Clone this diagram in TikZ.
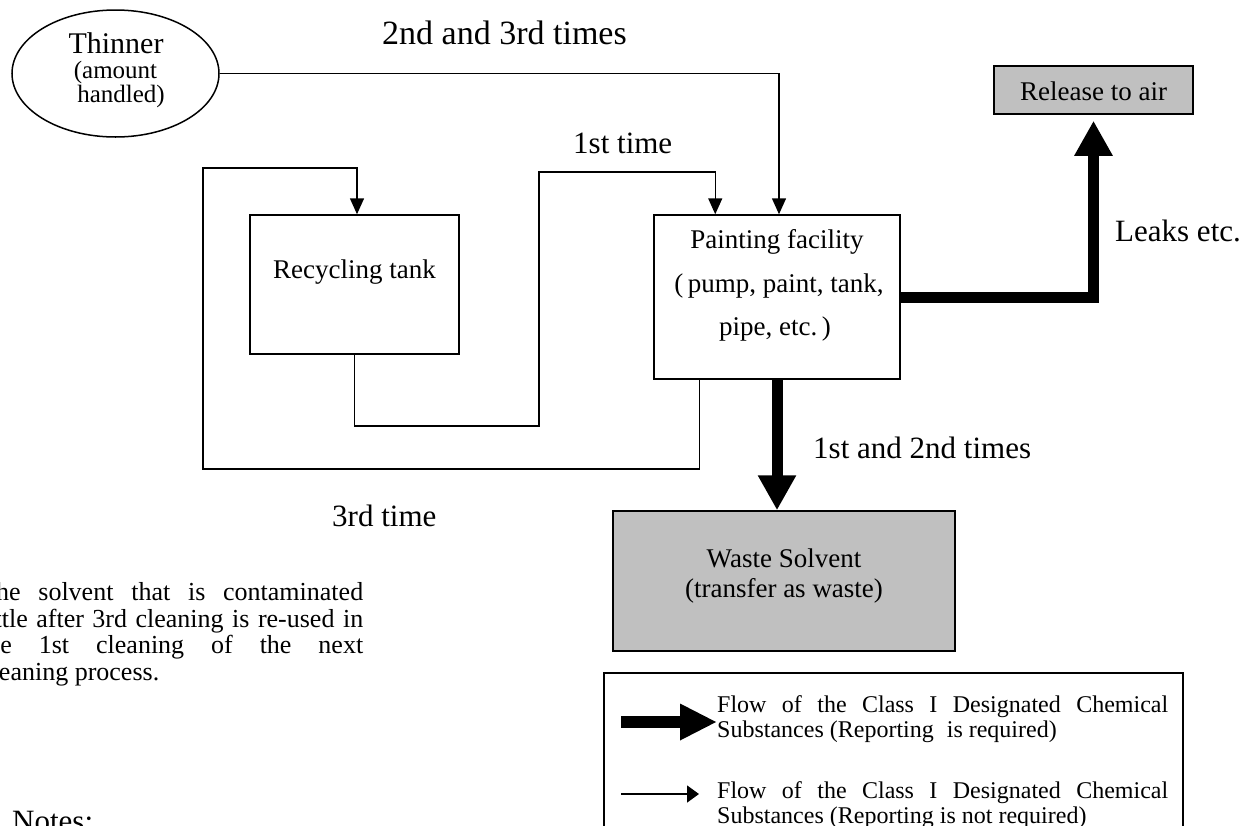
\documentclass[tikz,border=0pt]{standalone}
\usepackage{fontspec}
\setmainfont{Liberation Serif}
\usetikzlibrary{arrows.meta,shapes.geometric,calc}
\definecolor{boxgray}{RGB}{192,192,192}
\newcommand{\fs}[1]{\fontsize{#1}{#1}\selectfont}
\newcommand{\jl}[2]{\hbox to #1{#2}}
\begin{document}
\begin{tikzpicture}[x=1pt,y=-1pt,
  box/.style={draw, line width=1.5pt, rectangle, inner sep=0pt},
  ell/.style={draw, line width=1.5pt, ellipse, inner sep=0pt, minimum width=207pt, minimum height=127pt},
  lbl/.style={inner sep=0pt, anchor=base west, font=\fs{31}},
  txt/.style={inner sep=0pt, anchor=base, font=\fs{27}},
  para/.style={inner sep=0pt, anchor=base west},
  thinarr/.style={line width=1.5pt, -{Triangle[length=16pt,width=14pt]}},
  bigarr/.style={line width=11pt, -{Triangle[length=35pt,width=36pt]}},
]
\path[use as bounding box, fill=white] (0,0) rectangle (1255,825);
\clip (0,0) rectangle (1255,825);

% shapes
\node[ell] (thinner) at (115.5,73.5) {};
\node[box, minimum width=209pt, minimum height=139pt] (tank) at (354.5,284.5) {};
\node[box, minimum width=246pt, minimum height=164pt] (paint) at (777,297) {};
\node[box, fill=boxgray, minimum width=342pt, minimum height=140pt] (waste) at (784,581) {};
\node[box, fill=boxgray, minimum width=199pt, minimum height=48pt] (release) at (1093.5,90) {};
\node[box, line width=2pt, minimum width=579pt, minimum height=220pt, anchor=north west] (legend) at (603,672) {};

% texts in shapes
\node[txt, font=\fs{30}] (t1) at (116,53) {Thinner};
\node[txt, font=\fs{25}] (t2) at (115.5,78) {(amount};
\node[txt, font=\fs{25}] (t3) at (121,102) {handled)};
\node[txt] (tk) at (354.5,278) {Recycling tank};
\node[txt] (p1) at (777,248) {Painting facility};
\node[txt] (p2) at (779,292) {(\,pump, paint, tank,};
\node[txt] (p3) at (775,335) {pipe, etc.\,)};
\node[txt] (w1) at (784,567) {Waste Solvent};
\node[txt] (w2) at (784,597) {(transfer as waste)};
\node[txt] (r1) at (1093.5,100) {Release to air};

% labels
\node[lbl, font=\fs{34}] (l1) at (382,44) {2nd and 3rd times};
\node[lbl] (l2) at (573,153) {1st time};
\node[lbl] (l3) at (1115,241) {Leaks etc.};
\node[lbl] (l4) at (813,458) {1st and 2nd times};
\node[lbl] (l5) at (332,526) {3rd time};
\node[lbl] (l6) at (12,831) {Notes:};

% note paragraph
\node[para, font=\fs{26}] (n1) at (-20,600) {\jl{383pt}{The solvent that is contaminated}};
\node[para, font=\fs{26}] (n2) at (-20,627) {\jl{383pt}{little after 3rd cleaning is re-used in}};
\node[para, font=\fs{26}] (n3) at (-20,653) {\jl{383pt}{the 1st cleaning of the next}};
\node[para, font=\fs{26}] (n4) at (-20,680) {cleaning process.};

% legend texts
\node[para, font=\fs{24}] (g1) at (717,712) {\jl{451pt}{Flow of the Class I Designated Chemical}};
\node[para, font=\fs{24}] (g2) at (717,737) {Substances (Reporting\hspace{7pt} is required)};
\node[para, font=\fs{24}] (g3) at (717,798) {\jl{451pt}{Flow of the Class I Designated Chemical}};
\node[para, font=\fs{24}] (g4) at (717,823) {Substances (Reporting is not required)};

% connectors
\coordinate (c1) at (539,426);
\coordinate (c2) at (539,172);
\coordinate (d1) at (203,469);
\coordinate (d2) at (203,168);
\draw[thinarr] (thinner.east) -| ([xshift=2pt]paint.north);
\draw[thinarr] (tank.south) |- (c1) -- (c2) -| ([xshift=62pt]paint.north west);
\draw[thinarr] ([xshift=46pt]paint.south west) |- (d1) -- (d2) -| ([xshift=2.5pt]tank.north);
\draw[bigarr, shorten >=6pt] (paint.east) -| (release.south);
\draw[bigarr] (paint.south) -- (paint.south |- waste.north);

% legend arrows
\coordinate (la1) at (621,722);
\coordinate (la2) at (717,722);
\coordinate (lb1) at (621,794);
\coordinate (lb2) at (699,794);
\draw[line width=12pt, -{Triangle[length=37pt,width=34pt]}] (la1) -- (la2);
\draw[line width=1.5pt, -{Triangle[length=12pt,width=17pt]}] (lb1) -- (lb2);
\end{tikzpicture}
\end{document}
